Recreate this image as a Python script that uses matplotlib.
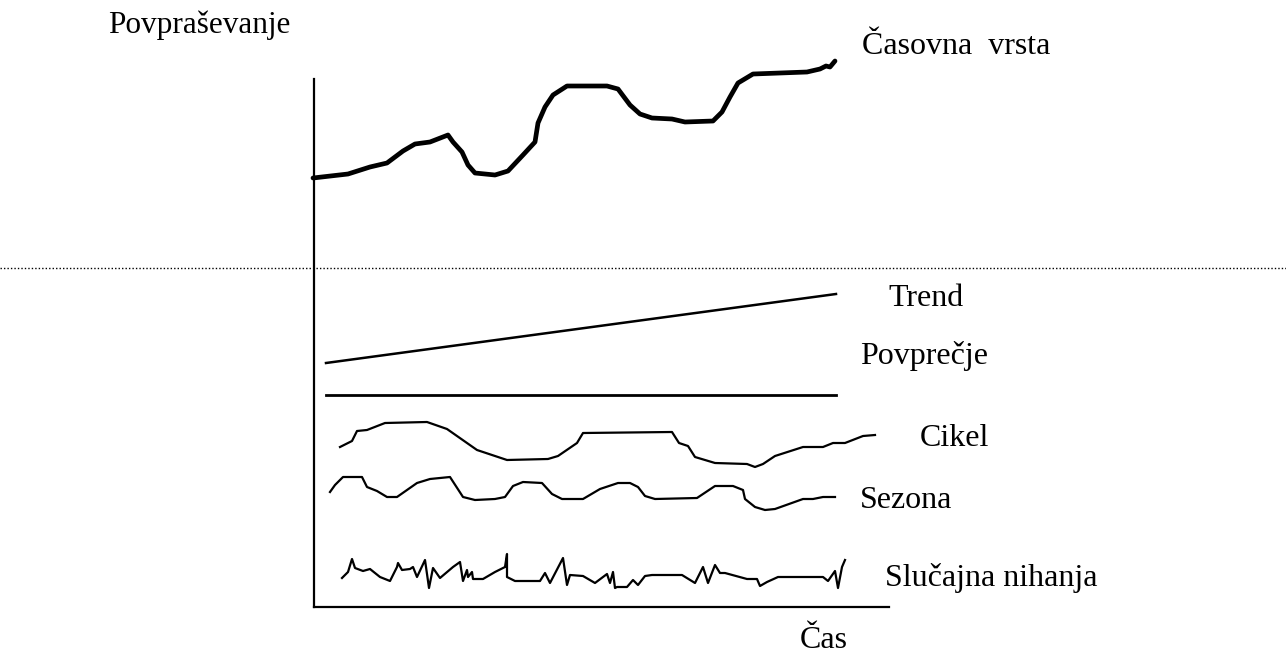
import matplotlib.pyplot as plt

# ============================================================
# DATA (x = time, y = level, screen units)
# ============================================================

series_x = [313, 348, 370, 387, 403, 415, 430, 448, 453, 462, 468, 475, 495, 508,
            523, 535, 538, 545, 553, 567, 607, 618, 630, 640, 652, 672, 685, 713,
            722, 730, 738, 753, 780, 807, 820, 826, 830, 835]
series_y = [178, 174, 167, 163, 151, 144, 142, 135, 142, 152, 165, 173, 175, 171,
            155, 142, 123, 107, 95, 86, 86, 89, 105, 114, 118, 119, 122, 121,
            112, 97, 83, 74, 73, 72, 69, 66, 67, 61]

trend_x = [326, 836]
trend_y = [363, 294]

mean_x = [326, 836]
mean_y = [395, 395]

cycle_x = [340, 352, 357, 367, 385, 427, 447, 477, 507, 548, 558, 577, 583, 672,
           679, 688, 695, 715, 747, 755, 763, 775, 803, 823, 833, 845, 863, 875]
cycle_y = [447, 441, 431, 430, 423, 422, 429, 450, 460, 459, 456, 443, 433, 432,
           443, 446, 457, 463, 464, 467, 464, 456, 447, 447, 443, 443, 436, 435]

season_x = [330, 335, 343, 362, 367, 377, 387, 397, 417, 430, 450, 463, 475, 495,
            505, 513, 523, 542, 552, 562, 583, 600, 618, 630, 638, 645, 655, 697,
            715, 733, 743, 745, 755, 765, 775, 803, 813, 823, 835]
season_y = [492, 485, 477, 477, 487, 491, 497, 497, 483, 479, 477, 497, 500, 499,
            497, 486, 482, 483, 494, 499, 499, 489, 483, 483, 487, 496, 499, 498,
            486, 486, 490, 499, 507, 510, 509, 499, 499, 497, 497]

noise_x = [342, 348, 352, 355, 363, 370, 380, 390, 397, 398, 402, 410, 413, 417,
           425, 429, 433, 440, 453, 460, 463, 467, 468, 472, 473, 483, 495, 505,
           507, 507, 515, 540, 545, 550, 563, 567, 570, 583, 595, 607, 610, 613,
           615, 617, 627, 633, 638, 645, 652, 682, 695, 703, 708, 715, 720, 725,
           747, 757, 760, 767, 778, 823, 828, 835, 838, 842, 845]
noise_y = [578, 572, 559, 568, 571, 569, 577, 581, 567, 563, 570, 569, 567, 577,
           560, 588, 568, 578, 567, 562, 581, 570, 577, 572, 579, 579, 572, 567,
           554, 577, 581, 581, 573, 583, 558, 585, 575, 576, 583, 574, 583, 572,
           588, 587, 587, 580, 585, 576, 575, 575, 583, 567, 583, 565, 573, 573,
           579, 579, 586, 582, 577, 577, 581, 571, 588, 567, 560]

labels = ["Časovna  vrsta", "Trend", "Povprečje", "Cikel", "Sezona", "Slučajna nihanja"]
label_x = [862, 888, 860, 920, 860, 885]
label_y = [46, 298, 356, 439, 500, 578]

# ============================================================
# PLOT
# ============================================================

plt.rcParams["font.family"] = ["Liberation Serif", "DejaVu Serif"]

fig = plt.figure(figsize=(12.86, 6.57), dpi=100)
ax = fig.add_axes([0, 0, 1, 1])
ax.set_xlim(0, 1286)
ax.set_ylim(657, 0)
ax.axis("off")

# axes of the sketch
ax.plot([314, 314], [79, 607], color="black", lw=1.6)
ax.plot([314, 889], [607, 607], color="black", lw=1.6)

# dotted divider
ax.plot([0, 1286], [268, 268], color="black", lw=1.0, ls=(0, (1, 1.5)))

ax.plot(series_x, series_y, color="black", lw=3.4, solid_joinstyle="round",
        solid_capstyle="round")
ax.plot(trend_x, trend_y, color="black", lw=1.8)
ax.plot(mean_x, mean_y, color="black", lw=2.0)
ax.plot(cycle_x, cycle_y, color="black", lw=1.6)
ax.plot(season_x, season_y, color="black", lw=1.6)
ax.plot(noise_x, noise_y, color="black", lw=1.6)

for t, x, y in zip(labels, label_x, label_y):
    ax.text(x, y, t, fontsize=23, ha="left", va="center")

ax.text(108, 25, "Povpraševanje", fontsize=22.5, ha="left", va="center")
ax.text(800, 641, "Čas", fontsize=23, ha="left", va="center")

fig.savefig("out.png", dpi=100, facecolor="white")
